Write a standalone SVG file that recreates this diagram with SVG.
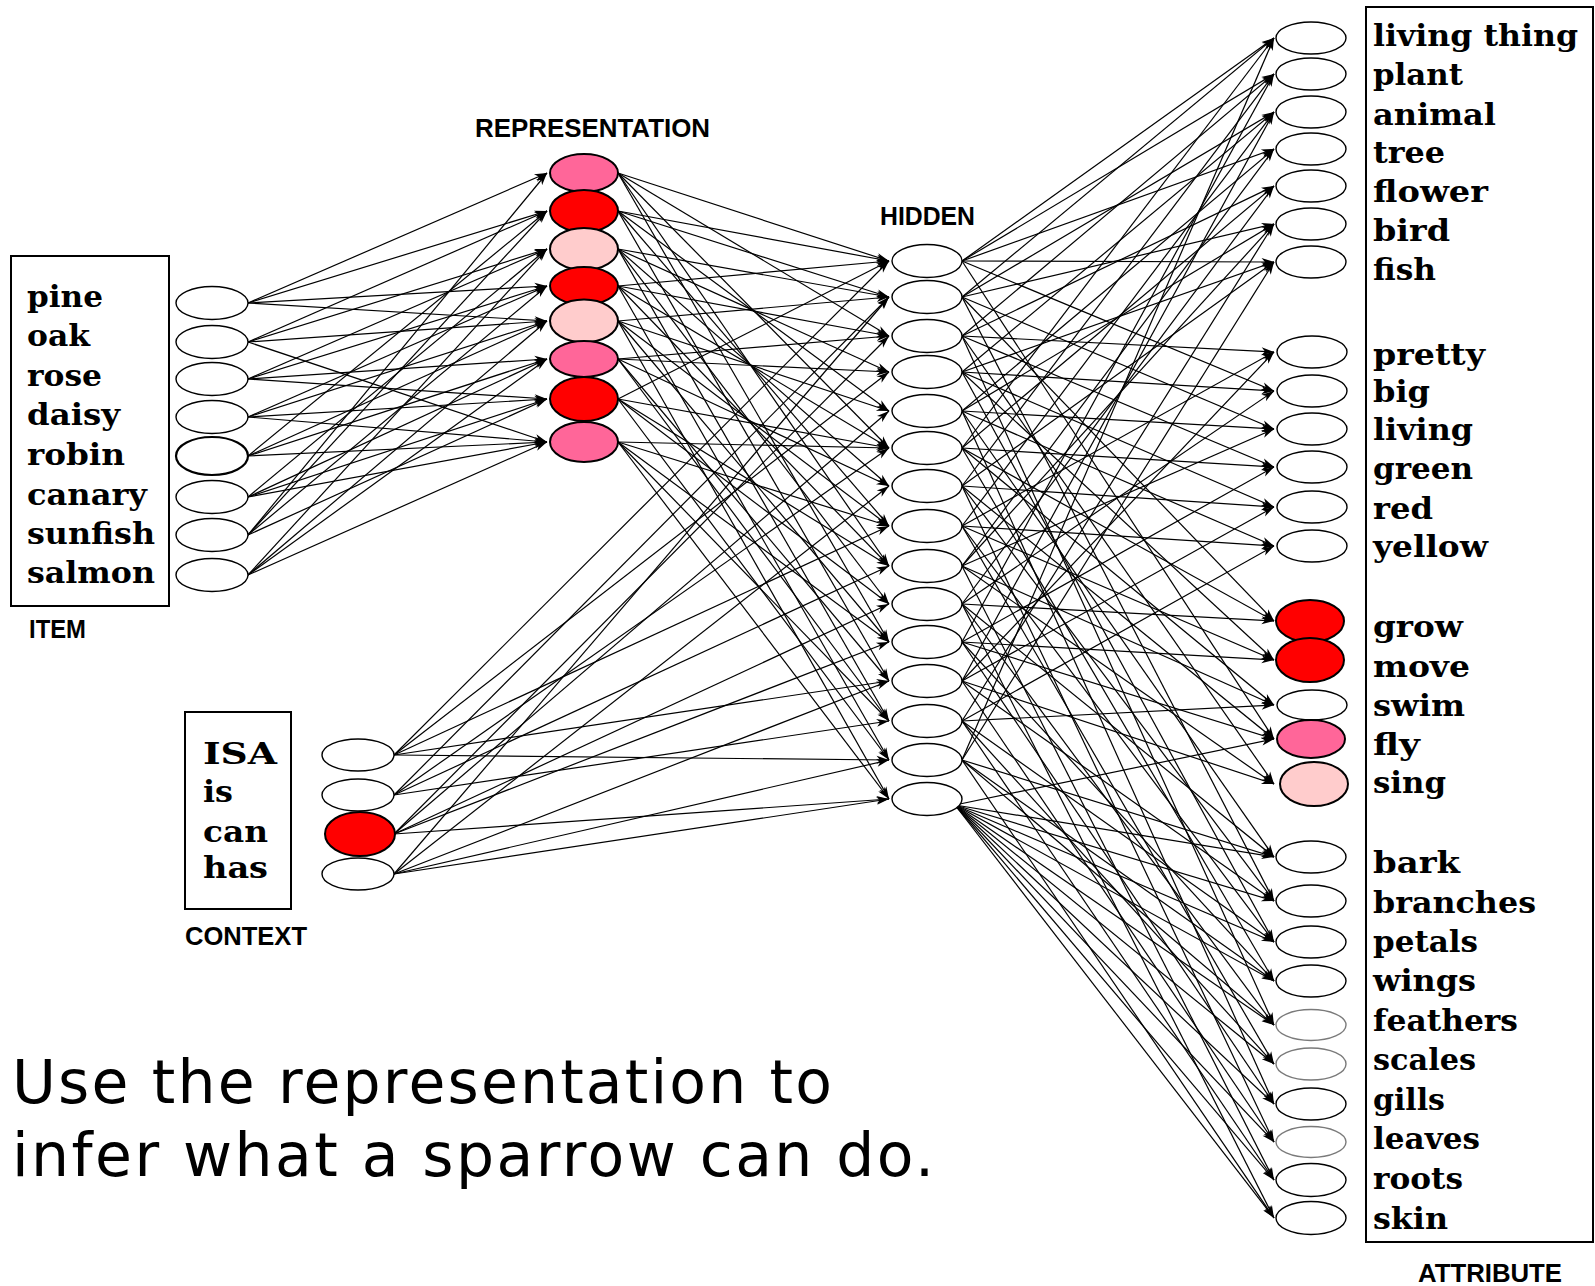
<svg xmlns="http://www.w3.org/2000/svg" width="1595" height="1286" viewBox="0 0 1595 1286">
<style>
  .bg { fill:#fff; }
  .box { fill:none; stroke:#000; stroke-width:2; }
  .n { fill:#fff; stroke:#000; stroke-width:1.4; }
  .ng { fill:#fff; stroke:#7a7a7a; stroke-width:1.4; }
  .nb { fill:#fff; stroke:#000; stroke-width:2.2; }
  .red { fill:#ff0000; stroke:#000; stroke-width:2; }
  .pink { fill:#ff6699; stroke:#000; stroke-width:2; }
  .lt { fill:#ffcccc; stroke:#000; stroke-width:2; }
  .word { font-family:"DejaVu Serif","Liberation Serif",serif; font-weight:bold; font-size:30px; fill:#000; }
  .cap { font-family:"Liberation Sans","DejaVu Sans",sans-serif; font-weight:bold; font-size:25px; fill:#000; }
  .note { font-family:"DejaVu Sans","Verdana",sans-serif; font-size:60px; fill:#000; }
  #connectors line { stroke:#000; stroke-width:1.2; marker-end:url(#ah); }
</style>
<defs>
  <marker id="ah" markerWidth="14" markerHeight="9" refX="13" refY="4.5" orient="auto" markerUnits="userSpaceOnUse">
    <path d="M0.5,0.5 L13,4.5 L0.5,8.5 L4,4.5 Z" fill="#000"/>
  </marker>
</defs>
<rect class="bg" x="0" y="0" width="1595" height="1286"/>

<!-- connectors: item -> representation, context -> hidden, representation -> hidden, hidden -> attribute -->
<g id="connectors">
  <!-- item -> representation -->
  <line x1="248" y1="303" x2="547" y2="173"/>
  <line x1="248" y1="303" x2="547" y2="211"/>
  <line x1="248" y1="303" x2="547" y2="286"/>
  <line x1="248" y1="303" x2="547" y2="321"/>
  <line x1="248" y1="342" x2="547" y2="211"/>
  <line x1="248" y1="342" x2="547" y2="249"/>
  <line x1="248" y1="342" x2="547" y2="321"/>
  <line x1="248" y1="342" x2="547" y2="442"/>
  <line x1="248" y1="379" x2="547" y2="249"/>
  <line x1="248" y1="379" x2="547" y2="286"/>
  <line x1="248" y1="379" x2="547" y2="359"/>
  <line x1="248" y1="379" x2="547" y2="399"/>
  <line x1="248" y1="417" x2="547" y2="286"/>
  <line x1="248" y1="417" x2="547" y2="321"/>
  <line x1="248" y1="417" x2="547" y2="399"/>
  <line x1="248" y1="417" x2="547" y2="442"/>
  <line x1="248" y1="456" x2="547" y2="211"/>
  <line x1="248" y1="456" x2="547" y2="321"/>
  <line x1="248" y1="456" x2="547" y2="359"/>
  <line x1="248" y1="456" x2="547" y2="442"/>
  <line x1="248" y1="497" x2="547" y2="249"/>
  <line x1="248" y1="497" x2="547" y2="359"/>
  <line x1="248" y1="497" x2="547" y2="399"/>
  <line x1="248" y1="497" x2="547" y2="442"/>
  <line x1="248" y1="535" x2="547" y2="173"/>
  <line x1="248" y1="535" x2="547" y2="211"/>
  <line x1="248" y1="535" x2="547" y2="286"/>
  <line x1="248" y1="535" x2="547" y2="399"/>
  <line x1="248" y1="575" x2="547" y2="249"/>
  <line x1="248" y1="575" x2="547" y2="321"/>
  <line x1="248" y1="575" x2="547" y2="359"/>
  <line x1="248" y1="575" x2="547" y2="442"/>

  <!-- context -> hidden -->
  <line x1="394" y1="755" x2="889" y2="261"/>
  <line x1="394" y1="755" x2="889" y2="372"/>
  <line x1="394" y1="755" x2="889" y2="526"/>
  <line x1="394" y1="755" x2="889" y2="681"/>
  <line x1="394" y1="755" x2="889" y2="760"/>
  <line x1="394" y1="795" x2="889" y2="297"/>
  <line x1="394" y1="795" x2="889" y2="448"/>
  <line x1="394" y1="795" x2="889" y2="566"/>
  <line x1="394" y1="795" x2="889" y2="721"/>
  <line x1="394" y1="834" x2="889" y2="336"/>
  <line x1="394" y1="834" x2="889" y2="411"/>
  <line x1="394" y1="834" x2="889" y2="604"/>
  <line x1="394" y1="834" x2="889" y2="642"/>
  <line x1="394" y1="834" x2="889" y2="799"/>
  <line x1="394" y1="874" x2="889" y2="297"/>
  <line x1="394" y1="874" x2="889" y2="486"/>
  <line x1="394" y1="874" x2="889" y2="681"/>
  <line x1="394" y1="874" x2="889" y2="760"/>
  <line x1="394" y1="874" x2="889" y2="799"/>

  <!-- representation -> hidden -->
  <line x1="618" y1="173" x2="889" y2="261"/>
  <line x1="618" y1="173" x2="889" y2="336"/>
  <line x1="618" y1="173" x2="889" y2="448"/>
  <line x1="618" y1="173" x2="889" y2="566"/>
  <line x1="618" y1="173" x2="889" y2="642"/>
  <line x1="618" y1="211" x2="889" y2="261"/>
  <line x1="618" y1="211" x2="889" y2="297"/>
  <line x1="618" y1="211" x2="889" y2="411"/>
  <line x1="618" y1="211" x2="889" y2="526"/>
  <line x1="618" y1="211" x2="889" y2="681"/>
  <line x1="618" y1="249" x2="889" y2="297"/>
  <line x1="618" y1="249" x2="889" y2="372"/>
  <line x1="618" y1="249" x2="889" y2="486"/>
  <line x1="618" y1="249" x2="889" y2="604"/>
  <line x1="618" y1="249" x2="889" y2="721"/>
  <line x1="618" y1="286" x2="889" y2="261"/>
  <line x1="618" y1="286" x2="889" y2="336"/>
  <line x1="618" y1="286" x2="889" y2="448"/>
  <line x1="618" y1="286" x2="889" y2="566"/>
  <line x1="618" y1="286" x2="889" y2="760"/>
  <line x1="618" y1="321" x2="889" y2="297"/>
  <line x1="618" y1="321" x2="889" y2="411"/>
  <line x1="618" y1="321" x2="889" y2="526"/>
  <line x1="618" y1="321" x2="889" y2="642"/>
  <line x1="618" y1="321" x2="889" y2="799"/>
  <line x1="618" y1="359" x2="889" y2="336"/>
  <line x1="618" y1="359" x2="889" y2="372"/>
  <line x1="618" y1="359" x2="889" y2="486"/>
  <line x1="618" y1="359" x2="889" y2="681"/>
  <line x1="618" y1="359" x2="889" y2="721"/>
  <line x1="618" y1="399" x2="889" y2="261"/>
  <line x1="618" y1="399" x2="889" y2="448"/>
  <line x1="618" y1="399" x2="889" y2="566"/>
  <line x1="618" y1="399" x2="889" y2="604"/>
  <line x1="618" y1="399" x2="889" y2="760"/>
  <line x1="618" y1="442" x2="889" y2="448"/>
  <line x1="618" y1="442" x2="889" y2="526"/>
  <line x1="618" y1="442" x2="889" y2="642"/>
  <line x1="618" y1="442" x2="889" y2="721"/>
  <line x1="618" y1="442" x2="889" y2="799"/>

  <!-- hidden -> attribute -->
  <line x1="962" y1="261" x2="1274" y2="38"/>
  <line x1="962" y1="261" x2="1274" y2="74"/>
  <line x1="962" y1="261" x2="1274" y2="149"/>
  <line x1="962" y1="261" x2="1274" y2="262"/>
  <line x1="962" y1="261" x2="1274" y2="391"/>
  <line x1="962" y1="261" x2="1274" y2="739"/>
  <line x1="962" y1="297" x2="1274" y2="38"/>
  <line x1="962" y1="297" x2="1274" y2="112"/>
  <line x1="962" y1="297" x2="1274" y2="224"/>
  <line x1="962" y1="297" x2="1274" y2="429"/>
  <line x1="962" y1="297" x2="1274" y2="621"/>
  <line x1="962" y1="297" x2="1274" y2="901"/>
  <line x1="962" y1="336" x2="1274" y2="74"/>
  <line x1="962" y1="336" x2="1274" y2="186"/>
  <line x1="962" y1="336" x2="1274" y2="352"/>
  <line x1="962" y1="336" x2="1274" y2="467"/>
  <line x1="962" y1="336" x2="1274" y2="784"/>
  <line x1="962" y1="336" x2="1274" y2="1025"/>
  <line x1="962" y1="372" x2="1274" y2="112"/>
  <line x1="962" y1="372" x2="1274" y2="262"/>
  <line x1="962" y1="372" x2="1274" y2="391"/>
  <line x1="962" y1="372" x2="1274" y2="507"/>
  <line x1="962" y1="372" x2="1274" y2="660"/>
  <line x1="962" y1="372" x2="1274" y2="942"/>
  <line x1="962" y1="411" x2="1274" y2="149"/>
  <line x1="962" y1="411" x2="1274" y2="224"/>
  <line x1="962" y1="411" x2="1274" y2="429"/>
  <line x1="962" y1="411" x2="1274" y2="546"/>
  <line x1="962" y1="411" x2="1274" y2="857"/>
  <line x1="962" y1="411" x2="1274" y2="1104"/>
  <line x1="962" y1="448" x2="1274" y2="38"/>
  <line x1="962" y1="448" x2="1274" y2="186"/>
  <line x1="962" y1="448" x2="1274" y2="467"/>
  <line x1="962" y1="448" x2="1274" y2="621"/>
  <line x1="962" y1="448" x2="1274" y2="705"/>
  <line x1="962" y1="448" x2="1274" y2="981"/>
  <line x1="962" y1="486" x2="1274" y2="74"/>
  <line x1="962" y1="486" x2="1274" y2="262"/>
  <line x1="962" y1="486" x2="1274" y2="507"/>
  <line x1="962" y1="486" x2="1274" y2="739"/>
  <line x1="962" y1="486" x2="1274" y2="901"/>
  <line x1="962" y1="486" x2="1274" y2="1142"/>
  <line x1="962" y1="526" x2="1274" y2="112"/>
  <line x1="962" y1="526" x2="1274" y2="352"/>
  <line x1="962" y1="526" x2="1274" y2="546"/>
  <line x1="962" y1="526" x2="1274" y2="660"/>
  <line x1="962" y1="526" x2="1274" y2="942"/>
  <line x1="962" y1="526" x2="1274" y2="1064"/>
  <line x1="962" y1="566" x2="1274" y2="149"/>
  <line x1="962" y1="566" x2="1274" y2="224"/>
  <line x1="962" y1="566" x2="1274" y2="429"/>
  <line x1="962" y1="566" x2="1274" y2="705"/>
  <line x1="962" y1="566" x2="1274" y2="784"/>
  <line x1="962" y1="566" x2="1274" y2="1180"/>
  <line x1="962" y1="604" x2="1274" y2="186"/>
  <line x1="962" y1="604" x2="1274" y2="391"/>
  <line x1="962" y1="604" x2="1274" y2="621"/>
  <line x1="962" y1="604" x2="1274" y2="857"/>
  <line x1="962" y1="604" x2="1274" y2="1025"/>
  <line x1="962" y1="604" x2="1274" y2="1218"/>
  <line x1="962" y1="642" x2="1274" y2="74"/>
  <line x1="962" y1="642" x2="1274" y2="467"/>
  <line x1="962" y1="642" x2="1274" y2="660"/>
  <line x1="962" y1="642" x2="1274" y2="739"/>
  <line x1="962" y1="642" x2="1274" y2="981"/>
  <line x1="962" y1="642" x2="1274" y2="1104"/>
  <line x1="962" y1="681" x2="1274" y2="112"/>
  <line x1="962" y1="681" x2="1274" y2="352"/>
  <line x1="962" y1="681" x2="1274" y2="507"/>
  <line x1="962" y1="681" x2="1274" y2="784"/>
  <line x1="962" y1="681" x2="1274" y2="901"/>
  <line x1="962" y1="681" x2="1274" y2="1142"/>
  <line x1="962" y1="721" x2="1274" y2="224"/>
  <line x1="962" y1="721" x2="1274" y2="546"/>
  <line x1="962" y1="721" x2="1274" y2="705"/>
  <line x1="962" y1="721" x2="1274" y2="942"/>
  <line x1="962" y1="721" x2="1274" y2="1064"/>
  <line x1="962" y1="721" x2="1274" y2="1180"/>
  <line x1="962" y1="760" x2="1274" y2="38"/>
  <line x1="962" y1="760" x2="1274" y2="262"/>
  <line x1="962" y1="760" x2="1274" y2="857"/>
  <line x1="962" y1="760" x2="1274" y2="981"/>
  <line x1="962" y1="760" x2="1274" y2="1025"/>
  <line x1="962" y1="760" x2="1274" y2="1218"/>
  <line x1="955" y1="805" x2="1274" y2="739"/>
  <line x1="955" y1="805" x2="1274" y2="857"/>
  <line x1="955" y1="805" x2="1274" y2="901"/>
  <line x1="955" y1="805" x2="1274" y2="942"/>
  <line x1="955" y1="805" x2="1274" y2="981"/>
  <line x1="955" y1="805" x2="1274" y2="1025"/>
  <line x1="955" y1="805" x2="1274" y2="1064"/>
  <line x1="955" y1="805" x2="1274" y2="1104"/>
  <line x1="955" y1="805" x2="1274" y2="1142"/>
  <line x1="955" y1="805" x2="1274" y2="1180"/>
  <line x1="955" y1="805" x2="1274" y2="1218"/>
</g>

<!-- item layer -->
<g id="item">
  <rect class="box" x="11" y="256" width="158" height="350"/>
  <g id="item-pine"><ellipse class="n" cx="212" cy="303" rx="36" ry="16.5"/><text class="word" x="27" y="307" textLength="76" lengthAdjust="spacingAndGlyphs">pine</text></g>
  <g id="item-oak"><ellipse class="n" cx="212" cy="342" rx="36" ry="16.5"/><text class="word" x="27" y="346" textLength="63" lengthAdjust="spacingAndGlyphs">oak</text></g>
  <g id="item-rose"><ellipse class="n" cx="212" cy="379" rx="36" ry="16.5"/><text class="word" x="27" y="386" textLength="75" lengthAdjust="spacingAndGlyphs">rose</text></g>
  <g id="item-daisy"><ellipse class="n" cx="212" cy="417" rx="36" ry="16.5"/><text class="word" x="27" y="425" textLength="93" lengthAdjust="spacingAndGlyphs">daisy</text></g>
  <g id="item-robin"><ellipse class="nb" cx="212" cy="456" rx="36" ry="19"/><text class="word" x="27" y="465" textLength="98" lengthAdjust="spacingAndGlyphs">robin</text></g>
  <g id="item-canary"><ellipse class="n" cx="212" cy="497" rx="36" ry="16.5"/><text class="word" x="27" y="505" textLength="120" lengthAdjust="spacingAndGlyphs">canary</text></g>
  <g id="item-sunfish"><ellipse class="n" cx="212" cy="535" rx="36" ry="16.5"/><text class="word" x="27" y="544" textLength="128" lengthAdjust="spacingAndGlyphs">sunfish</text></g>
  <g id="item-salmon"><ellipse class="n" cx="212" cy="575" rx="36" ry="16.5"/><text class="word" x="27" y="583" textLength="128" lengthAdjust="spacingAndGlyphs">salmon</text></g>
  <text class="cap" x="29" y="638" textLength="57" lengthAdjust="spacingAndGlyphs">ITEM</text>
</g>

<!-- representation layer -->
<g id="representation">
  <text class="cap" x="475" y="137" textLength="235" lengthAdjust="spacingAndGlyphs">REPRESENTATION</text>
  <g id="rep-1"><ellipse class="pink" cx="584" cy="173" rx="34" ry="19"/></g>
  <g id="rep-2"><ellipse class="red" cx="584" cy="211" rx="34" ry="21"/></g>
  <g id="rep-3"><ellipse class="lt" cx="584" cy="249" rx="34" ry="21"/></g>
  <g id="rep-4"><ellipse class="red" cx="584" cy="286" rx="34" ry="19"/></g>
  <g id="rep-5"><ellipse class="lt" cx="584" cy="321" rx="34" ry="21.5"/></g>
  <g id="rep-6"><ellipse class="pink" cx="584" cy="359" rx="34" ry="18"/></g>
  <g id="rep-7"><ellipse class="red" cx="584" cy="399" rx="34" ry="22"/></g>
  <g id="rep-8"><ellipse class="pink" cx="584" cy="442" rx="34" ry="20"/></g>
</g>

<!-- hidden layer -->
<g id="hidden">
  <text class="cap" x="880" y="225" textLength="95" lengthAdjust="spacingAndGlyphs">HIDDEN</text>
  <g id="hid-1"><ellipse class="n" cx="927" cy="261" rx="35" ry="16.5"/></g>
  <g id="hid-2"><ellipse class="n" cx="927" cy="297" rx="35" ry="16.5"/></g>
  <g id="hid-3"><ellipse class="n" cx="927" cy="336" rx="35" ry="16.5"/></g>
  <g id="hid-4"><ellipse class="n" cx="927" cy="372" rx="35" ry="16.5"/></g>
  <g id="hid-5"><ellipse class="n" cx="927" cy="411" rx="35" ry="16.5"/></g>
  <g id="hid-6"><ellipse class="n" cx="927" cy="448" rx="35" ry="16.5"/></g>
  <g id="hid-7"><ellipse class="n" cx="927" cy="486" rx="35" ry="16.5"/></g>
  <g id="hid-8"><ellipse class="n" cx="927" cy="526" rx="35" ry="16.5"/></g>
  <g id="hid-9"><ellipse class="n" cx="927" cy="566" rx="35" ry="16.5"/></g>
  <g id="hid-10"><ellipse class="n" cx="927" cy="604" rx="35" ry="16.5"/></g>
  <g id="hid-11"><ellipse class="n" cx="927" cy="642" rx="35" ry="16.5"/></g>
  <g id="hid-12"><ellipse class="n" cx="927" cy="681" rx="35" ry="16.5"/></g>
  <g id="hid-13"><ellipse class="n" cx="927" cy="721" rx="35" ry="16.5"/></g>
  <g id="hid-14"><ellipse class="n" cx="927" cy="760" rx="35" ry="16.5"/></g>
  <g id="hid-15"><ellipse class="n" cx="927" cy="799" rx="35" ry="16.5"/></g>
</g>

<!-- context layer -->
<g id="context">
  <rect class="box" x="185" y="712" width="106" height="197"/>
  <g id="ctx-isa"><ellipse class="n" cx="358" cy="755" rx="36" ry="16"/><text class="word" x="203" y="764" textLength="74" lengthAdjust="spacingAndGlyphs">ISA</text></g>
  <g id="ctx-is"><ellipse class="n" cx="358" cy="795" rx="36" ry="16"/><text class="word" x="203" y="802" textLength="30" lengthAdjust="spacingAndGlyphs">is</text></g>
  <g id="ctx-can"><ellipse class="red" cx="360" cy="834" rx="35" ry="22"/><text class="word" x="203" y="842" textLength="65" lengthAdjust="spacingAndGlyphs">can</text></g>
  <g id="ctx-has"><ellipse class="n" cx="358" cy="874" rx="36" ry="16"/><text class="word" x="203" y="878" textLength="65" lengthAdjust="spacingAndGlyphs">has</text></g>
  <text class="cap" x="185" y="945" textLength="122" lengthAdjust="spacingAndGlyphs">CONTEXT</text>
</g>

<!-- attribute layer -->
<g id="attribute">
  <rect class="box" x="1366" y="7" width="227" height="1235"/>
  <g id="att-living-thing"><ellipse class="n" cx="1311" cy="38" rx="35" ry="16"/><text class="word" x="1373" y="46" textLength="205" lengthAdjust="spacingAndGlyphs">living thing</text></g>
  <g id="att-plant"><ellipse class="n" cx="1311" cy="74" rx="35" ry="16"/><text class="word" x="1373" y="85" textLength="90" lengthAdjust="spacingAndGlyphs">plant</text></g>
  <g id="att-animal"><ellipse class="n" cx="1311" cy="112" rx="35" ry="16"/><text class="word" x="1373" y="125" textLength="123" lengthAdjust="spacingAndGlyphs">animal</text></g>
  <g id="att-tree"><ellipse class="n" cx="1311" cy="149" rx="35" ry="16"/><text class="word" x="1373" y="163" textLength="72" lengthAdjust="spacingAndGlyphs">tree</text></g>
  <g id="att-flower"><ellipse class="n" cx="1311" cy="186" rx="35" ry="16"/><text class="word" x="1373" y="202" textLength="115" lengthAdjust="spacingAndGlyphs">flower</text></g>
  <g id="att-bird"><ellipse class="n" cx="1311" cy="224" rx="35" ry="16"/><text class="word" x="1373" y="241" textLength="77" lengthAdjust="spacingAndGlyphs">bird</text></g>
  <g id="att-fish"><ellipse class="n" cx="1311" cy="262" rx="35" ry="16"/><text class="word" x="1373" y="280" textLength="63" lengthAdjust="spacingAndGlyphs">fish</text></g>

  <g id="att-pretty"><ellipse class="n" cx="1312" cy="352" rx="35" ry="16"/><text class="word" x="1373" y="365" textLength="112" lengthAdjust="spacingAndGlyphs">pretty</text></g>
  <g id="att-big"><ellipse class="n" cx="1312" cy="391" rx="35" ry="16"/><text class="word" x="1373" y="402" textLength="57" lengthAdjust="spacingAndGlyphs">big</text></g>
  <g id="att-living"><ellipse class="n" cx="1312" cy="429" rx="35" ry="16"/><text class="word" x="1373" y="440" textLength="100" lengthAdjust="spacingAndGlyphs">living</text></g>
  <g id="att-green"><ellipse class="n" cx="1312" cy="467" rx="35" ry="16"/><text class="word" x="1373" y="479" textLength="100" lengthAdjust="spacingAndGlyphs">green</text></g>
  <g id="att-red"><ellipse class="n" cx="1312" cy="507" rx="35" ry="16"/><text class="word" x="1373" y="519" textLength="60" lengthAdjust="spacingAndGlyphs">red</text></g>
  <g id="att-yellow"><ellipse class="n" cx="1312" cy="546" rx="35" ry="16"/><text class="word" x="1373" y="557" textLength="115" lengthAdjust="spacingAndGlyphs">yellow</text></g>

  <g id="att-grow"><ellipse class="red" cx="1310" cy="621" rx="34" ry="21"/><text class="word" x="1373" y="637" textLength="90" lengthAdjust="spacingAndGlyphs">grow</text></g>
  <g id="att-move"><ellipse class="red" cx="1310" cy="660" rx="34" ry="22"/><text class="word" x="1373" y="677" textLength="97" lengthAdjust="spacingAndGlyphs">move</text></g>
  <g id="att-swim"><ellipse class="n" cx="1312" cy="705" rx="35" ry="15"/><text class="word" x="1373" y="716" textLength="92" lengthAdjust="spacingAndGlyphs">swim</text></g>
  <g id="att-fly"><ellipse class="pink" cx="1311" cy="739" rx="34" ry="19"/><text class="word" x="1373" y="755" textLength="47" lengthAdjust="spacingAndGlyphs">fly</text></g>
  <g id="att-sing"><ellipse class="lt" cx="1314" cy="784" rx="34" ry="22"/><text class="word" x="1373" y="793" textLength="73" lengthAdjust="spacingAndGlyphs">sing</text></g>

  <g id="att-bark"><ellipse class="n" cx="1311" cy="857" rx="35" ry="16"/><text class="word" x="1373" y="873" textLength="87" lengthAdjust="spacingAndGlyphs">bark</text></g>
  <g id="att-branches"><ellipse class="n" cx="1311" cy="901" rx="35" ry="16"/><text class="word" x="1373" y="913" textLength="163" lengthAdjust="spacingAndGlyphs">branches</text></g>
  <g id="att-petals"><ellipse class="n" cx="1311" cy="942" rx="35" ry="16"/><text class="word" x="1373" y="952" textLength="105" lengthAdjust="spacingAndGlyphs">petals</text></g>
  <g id="att-wings"><ellipse class="n" cx="1311" cy="981" rx="35" ry="16"/><text class="word" x="1373" y="991" textLength="103" lengthAdjust="spacingAndGlyphs">wings</text></g>
  <g id="att-feathers"><ellipse class="ng" cx="1311" cy="1025" rx="35" ry="15.5"/><text class="word" x="1373" y="1031" textLength="145" lengthAdjust="spacingAndGlyphs">feathers</text></g>
  <g id="att-scales"><ellipse class="ng" cx="1311" cy="1064" rx="35" ry="16"/><text class="word" x="1373" y="1070" textLength="103" lengthAdjust="spacingAndGlyphs">scales</text></g>
  <g id="att-gills"><ellipse class="n" cx="1311" cy="1104" rx="35" ry="16"/><text class="word" x="1373" y="1110" textLength="72" lengthAdjust="spacingAndGlyphs">gills</text></g>
  <g id="att-leaves"><ellipse class="ng" cx="1311" cy="1142" rx="35" ry="15.5"/><text class="word" x="1373" y="1149" textLength="107" lengthAdjust="spacingAndGlyphs">leaves</text></g>
  <g id="att-roots"><ellipse class="n" cx="1311" cy="1180" rx="35" ry="16.5"/><text class="word" x="1373" y="1189" textLength="90" lengthAdjust="spacingAndGlyphs">roots</text></g>
  <g id="att-skin"><ellipse class="n" cx="1311" cy="1218" rx="35" ry="16.5"/><text class="word" x="1373" y="1229" textLength="75" lengthAdjust="spacingAndGlyphs">skin</text></g>
  <text class="cap" x="1418" y="1282" textLength="144" lengthAdjust="spacingAndGlyphs">ATTRIBUTE</text>
</g>

<!-- caption -->
<g id="caption">
  <text class="note" x="12" y="1103" textLength="820">Use the representation to</text>
  <text class="note" x="12" y="1176" textLength="922">infer what a sparrow can do.</text>
</g>
</svg>
